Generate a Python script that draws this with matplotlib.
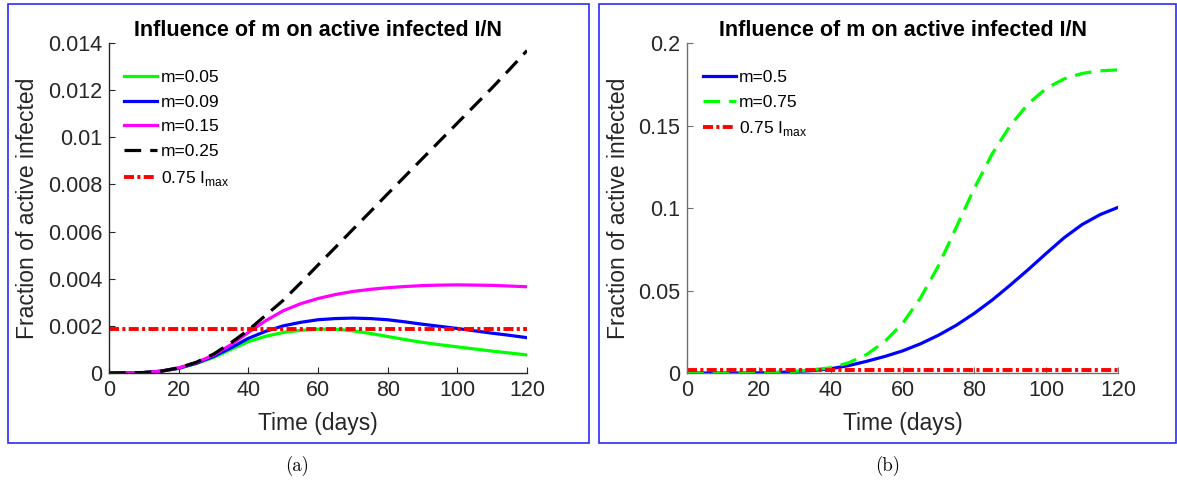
import matplotlib
matplotlib.use("Agg")
import matplotlib.pyplot as plt
from matplotlib.patches import Rectangle

plt.rcParams['font.family'] = ['Liberation Sans', 'DejaVu Sans']
plt.rcParams['mathtext.fontset'] = 'custom'
plt.rcParams['mathtext.rm'] = 'Liberation Sans'
plt.rcParams['lines.scale_dashes'] = False

# --- data: fraction of active infected, sampled every 5 days ---
days = [0, 5, 10, 15, 20, 25, 30, 35, 40, 45, 50, 55, 60, 65, 70, 75, 80, 85, 90, 95, 100, 105, 110, 115, 120]

i_m005 = [0, 0.000005, 0.00002, 0.00008, 0.0002, 0.0004, 0.00066, 0.001, 0.00133, 0.00156, 0.00172,
          0.00181, 0.00186, 0.00186, 0.00179, 0.00168, 0.00155, 0.00142, 0.0013, 0.0012, 0.00111,
          0.00102, 0.00093, 0.00085, 0.00077]
i_m009 = [0, 0.000005, 0.00002, 0.00008, 0.0002, 0.00041, 0.0007, 0.00107, 0.00147, 0.00177, 0.002,
          0.00215, 0.00226, 0.00231, 0.00233, 0.00231, 0.00226, 0.00217, 0.00207, 0.00198, 0.00189,
          0.00179, 0.00169, 0.0016, 0.0015]
i_m015 = [0, 0.000005, 0.00002, 0.00008, 0.00022, 0.00044, 0.00076, 0.0012, 0.00172, 0.00222, 0.00264,
          0.00294, 0.00316, 0.00333, 0.00346, 0.00355, 0.00362, 0.00367, 0.00371, 0.00373, 0.00374,
          0.00373, 0.00372, 0.00369, 0.00366]
i_m025 = [0, 0.000005, 0.00002, 0.00008, 0.00022, 0.00045, 0.0008, 0.00128, 0.00182, 0.00245, 0.00308,
          0.00382, 0.00458, 0.00533, 0.00609, 0.00684, 0.0076, 0.00835, 0.0091, 0.00985, 0.0106,
          0.01135, 0.0121, 0.01288, 0.01368]
thr_a = 0.00186

i_m050 = [0, 0, 0, 0.00002, 0.0001, 0.0003, 0.0008, 0.0015, 0.0026, 0.0045, 0.0071, 0.0100, 0.0134,
          0.0177, 0.0229, 0.0290, 0.0362, 0.0443, 0.0533, 0.0627, 0.0725, 0.0820, 0.0900, 0.0960, 0.1004]
i_m075 = [0, 0, 0, 0.00002, 0.0001, 0.0004, 0.001, 0.002, 0.0032, 0.0062, 0.0112, 0.0190, 0.0300, 0.0455,
          0.0650, 0.0885, 0.1120, 0.1330, 0.1500, 0.1632, 0.1725, 0.1783, 0.1816, 0.1832, 0.1837]
thr_b = 0.0019

dashed = (0, (12, 6.5))
dashdot = (0, (7.2, 2.4, 2.2, 2.4))

fig = plt.figure(figsize=(11.77, 4.82), dpi=100)

# blue frames around each panel
for x0, w in [(0.0068, 0.4936), (0.5089, 0.4902)]:
    fig.patches.append(Rectangle((x0, 0.0809), w, 0.9108, transform=fig.transFigure,
                                 fill=False, edgecolor='#2a2aff', linewidth=1.2))

ax1 = fig.add_axes([0.0926, 0.2261, 0.3551, 0.6846])
ax2 = fig.add_axes([0.5837, 0.2261, 0.3662, 0.6846])

lw = 2.3
ax1.plot(days, i_m005, color='#00ff00', lw=lw, label='m=0.05')
ax1.plot(days, i_m009, color='#0000ff', lw=lw, label='m=0.09')
ax1.plot(days, i_m015, color='#ff00ff', lw=lw, label='m=0.15')
ax1.plot(days, i_m025, color='black', lw=lw, linestyle=dashed, label='m=0.25')
ax1.plot([days[0], days[-1]], [thr_a, thr_a], color='#ff0000', lw=2.8, linestyle=dashdot,
         label='0.75 I$_{\\mathrm{max}}$')
ax1.set_ylim(0, 0.014)
ax1.set_yticks([0, 0.002, 0.004, 0.006, 0.008, 0.01, 0.012, 0.014])
ax1.set_yticklabels(['0', '0.002', '0.004', '0.006', '0.008', '0.01', '0.012', '0.014'])

ax2.plot(days, i_m050, color='#0000ff', lw=lw, label='m=0.5')
ax2.plot(days, i_m075, color='#00ff00', lw=lw, linestyle=dashed, label='m=0.75')
ax2.plot([days[0], days[-1]], [thr_b, thr_b], color='#ff0000', lw=2.8, linestyle=dashdot,
         label='0.75 I$_{\\mathrm{max}}$')
ax2.set_ylim(0, 0.2)
ax2.set_yticks([0, 0.05, 0.1, 0.15, 0.2])
ax2.set_yticklabels(['0', '0.05', '0.1', '0.15', '0.2'])

for ax, spine_col in [(ax1, '#262626'), (ax2, '#707070')]:
    ax.set_xlim(0, 120)
    ax.set_xticks([0, 20, 40, 60, 80, 100, 120])
    for s in ['top', 'right']:
        ax.spines[s].set_visible(False)
    for s in ['left', 'bottom']:
        ax.spines[s].set_color(spine_col)
        ax.spines[s].set_linewidth(1.0)
    ax.tick_params(direction='in', length=4, width=0.8, color=spine_col,
                   labelsize=15.5, labelcolor='#262626', pad=5)
    ax.set_title('Influence of m on active infected I/N', fontsize=15.5, fontweight='bold', pad=5)
    ax.set_xlabel('Time (days)', fontsize=16.5, color='#262626', labelpad=8)
    ax.set_ylabel('Fraction of active infected', fontsize=16.5, color='#262626', labelpad=6)
    ax.legend(loc='upper left', bbox_to_anchor=(0.02, 0.94), frameon=False, fontsize=12.5,
              handlelength=1.9, handletextpad=0.2, labelspacing=0.55, borderaxespad=0)

fig.text(0.2523, 0.033, '(a)', family='cmr10', fontsize=13.5, ha='center', va='center')
fig.text(0.7545, 0.033, '(b)', family='cmr10', fontsize=13.5, ha='center', va='center')

fig.savefig('out.png', dpi=100)
